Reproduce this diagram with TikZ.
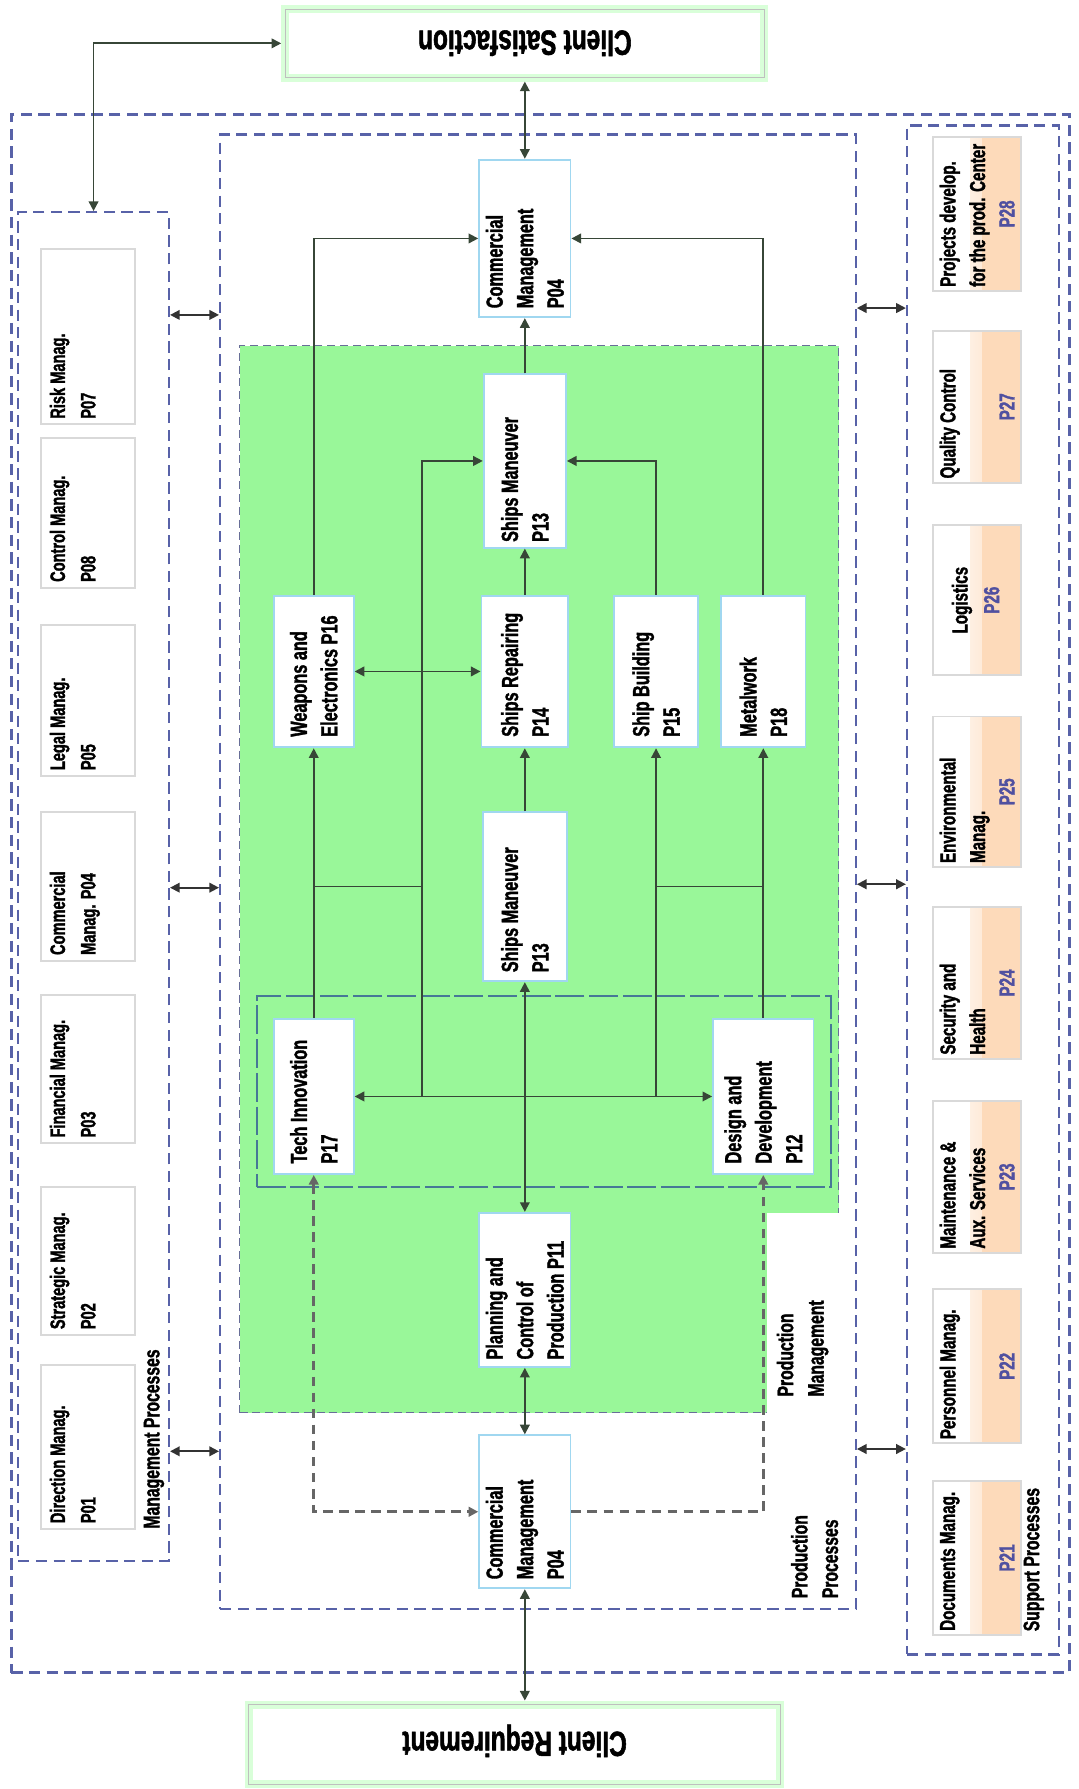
\documentclass[tikz,border=0pt]{standalone}
\usepackage{fontspec}
\setmainfont{Liberation Sans}[FakeStretch=0.7, BoldFeatures={FakeBold=1.5}]
\usetikzlibrary{arrows.meta,fit,calc}

\definecolor{dashblue}{RGB}{88,98,168}
\definecolor{prodgreen}{RGB}{153,247,153}
\definecolor{peach}{RGB}{253,218,186}
\definecolor{pnumblue}{RGB}{80,80,160}
\definecolor{boxblue}{RGB}{160,215,240}
\definecolor{techteal}{RGB}{70,120,150}
\definecolor{linecol}{RGB}{55,70,55}

\begin{document}
\begin{tikzpicture}[x=0.025cm,y=-0.025cm,
    grp/.style={draw=dashblue, line width=1.5pt, dash pattern=on 7pt off 4pt, inner sep=0pt},
    pbox/.style={draw=boxblue, line width=1.2pt, fill=white, inner sep=0pt},
    mbox/.style={draw=black!15, line width=1.2pt, fill=white, inner sep=0pt},
    sbox/.style={draw=black!15, line width=1.2pt, fill=white, inner sep=0pt,
      path picture={
        \shade[left color=white, right color=peach]
          ($(path picture bounding box.south west)!0.42!(path picture bounding box.south east)$)
          rectangle ($(path picture bounding box.north west)!0.56!(path picture bounding box.north east)$);
        \fill[peach]
          ($(path picture bounding box.south west)!0.56!(path picture bounding box.south east)$)
          rectangle (path picture bounding box.north east);}},
    clbox/.style={fill=white, draw=green!15, line width=5pt, inner sep=0pt,
      postaction={draw=black!25, line width=0.6pt},
      font=\bfseries\fontsize{21.8}{24}\selectfont},
    vt/.style={rotate=90, anchor=west, inner sep=0pt, align=left},
    vtp/.style={vt, font=\bfseries\fontsize{14.5}{19}\selectfont},
    vtm/.style={vt, font=\bfseries\fontsize{13}{19}\selectfont},
    vts/.style={vt, font=\bfseries\fontsize{13.5}{18.5}\selectfont},
    snum/.style={rotate=90, inner sep=0pt, text=pnumblue, font=\bfseries\fontsize{13.5}{18.5}\selectfont},
    lab/.style={inner sep=0pt, font=\bfseries\fontsize{14}{19}\selectfont},
    arr/.style={draw=linecol, line width=1.1pt, -{Triangle[length=6pt,width=6pt]}},
    dar/.style={draw=linecol, line width=1.1pt, {Triangle[length=6pt,width=6pt]}-{Triangle[length=6pt,width=6pt]}},
    dsh/.style={draw=black!60, line width=1.6pt, dash pattern=on 6pt off 4pt}]

  \useasboundingbox (0,0) rectangle (945,1568);

  % process groups
  \node[grp, line width=1.8pt, fit={(10,100) (937,1466)}] (outer) {};
  \node[grp, fit={(16,186) (148,1368)}] (mgmt) {};
  \node[grp, fit={(795,110) (928,1450)}] (supp) {};
  \node[grp, fit={(193,118) (750,1410)}] (prod) {};
  \node[fill=prodgreen, draw=dashblue!60!gray, line width=0.8pt, dash pattern=on 5pt off 3pt,
    inner sep=0pt, fit={(210,303) (735,1238)}] (green) {};
  \node[fill=white, inner sep=0pt, fit={(672,1063) (735,1238)}] (pmbg) {};
  \node[draw=techteal, line width=1.3pt, dash pattern=on 18pt off 3pt, inner sep=0pt,
    fit={(225,873) (728,1040)}] (techarea) {};

  % clients
  \node[clbox, fit={(250,8) (670,68)}] (csat) {\rotatebox{180}{Client Satisfaction}};
  \node[clbox, fit={(218,1494) (684,1564)}] (creq) {\rotatebox{180}{Client Requirement}};

  % management processes
  \node[mbox, fit={(36,218) (118,372)}] (p07) {};
  \node[mbox, fit={(36,384) (118,515)}] (p08) {};
  \node[mbox, fit={(36,548) (118,680)}] (p05) {};
  \node[mbox, fit={(36,712) (118,842)}] (p04m) {};
  \node[mbox, fit={(36,872) (118,1002)}] (p03) {};
  \node[mbox, fit={(36,1040) (118,1170)}] (p02) {};
  \node[mbox, fit={(36,1196) (118,1340)}] (p01) {};
  \node[vtm] (p07t) at ([yshift=4pt]p07.south) {Risk Manag.\\P07\\~};
  \node[vtm] (p08t) at ([yshift=4pt]p08.south) {Control Manag.\\P08\\~};
  \node[vtm] (p05t) at ([yshift=4pt]p05.south) {Legal Manag.\\P05\\~};
  \node[vtm] (p04mt) at ([yshift=4pt]p04m.south) {Commercial\\Manag. P04\\~};
  \node[vtm] (p03t) at ([yshift=4pt]p03.south) {Financial Manag.\\P03\\~};
  \node[vtm] (p02t) at ([yshift=4pt]p02.south) {Strategic Manag.\\P02\\~};
  \node[vtm] (p01t) at ([yshift=4pt]p01.south) {Direction Manag.\\P01\\~};

  % support processes
  \node[sbox, fit={(818,120) (895,255)}] (p28) {};
  \node[sbox, fit={(818,290) (895,423)}] (p27) {};
  \node[sbox, fit={(818,460) (895,592)}] (p26) {};
  \node[sbox, fit={(818,628) (895,760)}] (p25) {};
  \node[sbox, fit={(818,795) (895,928)}] (p24) {};
  \node[sbox, fit={(818,965) (895,1098)}] (p23) {};
  \node[sbox, fit={(818,1130) (895,1265)}] (p22) {};
  \node[sbox, fit={(818,1298) (895,1433)}] (p21) {};
  \node[vts] (p28t) at ([yshift=3pt]p28.south) {Projects develop.\\for the prod. Center\\~};
  \node[vts] (p27t) at ([yshift=3pt]p27.south) {Quality Control\\~\\~};
  \node[vts, anchor=center] (p26t) at ([xshift=-9.5pt]p26.center) {Logistics};
  \node[vts] (p25t) at ([yshift=3pt]p25.south) {Environmental\\Manag.\\~};
  \node[vts] (p24t) at ([yshift=3pt]p24.south) {Security and\\Health\\~};
  \node[vts] (p23t) at ([yshift=3pt]p23.south) {Maintenance \&\\Aux. Services\\~};
  \node[vts] (p22t) at ([yshift=3pt]p22.south) {Personnel Manag.\\~\\~};
  \node[vts] (p21t) at ([yshift=3pt]p21.south) {Documents Manag.\\~\\~};
  \node[snum] (p28n) at ([xshift=18.5pt]p28.center) {P28};
  \node[snum] (p27n) at ([xshift=18.5pt]p27.center) {P27};
  \node[snum] (p26n) at ([xshift=9pt]p26.center) {P26};
  \node[snum] (p25n) at ([xshift=18.5pt]p25.center) {P25};
  \node[snum] (p24n) at ([xshift=18.5pt]p24.center) {P24};
  \node[snum] (p23n) at ([xshift=18.5pt]p23.center) {P23};
  \node[snum] (p22n) at ([xshift=18.5pt]p22.center) {P22};
  \node[snum] (p21n) at ([xshift=18.5pt]p21.center) {P21};

  % production processes
  \node[pbox, fit={(420,140) (500,278)}] (cmtop) {};
  \node[pbox, fit={(424,328) (496,480)}] (smtop) {};
  \node[pbox, fit={(240,522) (310,655)}] (weap) {};
  \node[pbox, fit={(422,522) (498,655)}] (rep) {};
  \node[pbox, fit={(538,522) (612,655)}] (ship) {};
  \node[pbox, fit={(632,522) (706,655)}] (metal) {};
  \node[pbox, fit={(423,712) (497,860)}] (smlow) {};
  \node[pbox, fit={(240,893) (310,1029)}] (tech) {};
  \node[pbox, fit={(625,893) (713,1029)}] (design) {};
  \node[pbox, fit={(420,1063) (500,1198)}] (plan) {};
  \node[pbox, fit={(420,1258) (500,1392)}] (cmbot) {};
  \node[vtp] (cmtopt) at ([yshift=6pt]cmtop.south) {Commercial\\Management\\P04};
  \node[vtp] (smtopt) at ([yshift=4pt]smtop.south) {Ships Maneuver\\P13};
  \node[vtp] (weapt) at ([yshift=7pt]weap.south) {Weapons and\\Electronics P16};
  \node[vtp] (rept) at ([yshift=7pt]rep.south) {Ships Repairing\\P14};
  \node[vtp] (shipt) at ([yshift=7pt]ship.south) {Ship Building\\P15};
  \node[vtp] (metalt) at ([yshift=7pt]metal.south) {Metalwork\\P18};
  \node[vtp] (smlowt) at ([yshift=6pt]smlow.south) {Ships Maneuver\\P13};
  \node[vtp] (techt) at ([yshift=7pt]tech.south) {Tech Innovation\\P17};
  \node[vtp] (designt) at ([yshift=7pt]design.south) {Design and\\Development\\P12};
  \node[vtp] (plant) at ([yshift=5pt]plan.south) {Planning and\\Control of\\Production P11};
  \node[vtp] (cmbott) at ([yshift=6pt]cmbot.south) {Commercial\\Management\\P04};

  % group labels
  \node[lab, rotate=90, anchor=west] (mglab) at (135,1340) {Management Processes};
  \node[lab, rotate=90, anchor=west] (sulab) at (906,1430) {Support Processes};
  \node[lab, rotate=90, anchor=west, align=left] (prlab) at (714,1401) {Production\\Processes};
  \node[lab, rotate=90, anchor=west, align=left] (pmlab) at ([yshift=10pt]pmbg.south) {Production\\Management};

  % junctions
  \coordinate (jl) at (tech.east -| 370,0);
  \coordinate (jr) at (tech.east -| 575,0);
  \coordinate (jlm) at (370,777);
  \coordinate (jrm) at (575,777);

  % connectors
  \draw[dar] (mgmt.north) |- (csat.west);
  \draw[dar] (csat.south) -- (cmtop.north);
  \draw[arr] (weap.north) |- (cmtop.west);
  \draw[arr] (metal.north) |- (cmtop.east);
  \draw[arr] (smtop.north) -- (cmtop.south);
  \draw[arr] (rep.north) -- (smtop.south);
  \draw[arr] (jl) |- (smtop.west);
  \draw[arr] (ship.north) |- (smtop.east);
  \draw[dar] (weap.east) -- (rep.west);
  \draw[arr] (smlow.north) -- (rep.south);
  \draw[arr] (tech.north) -- (weap.south);
  \draw[arr] (jr) -- (ship.south);
  \draw[arr] (design.north) -- (metal.south);
  \draw[draw=linecol, line width=1.1pt] (jlm -| tech.north) -- (jlm);
  \draw[draw=linecol, line width=1.1pt] (jrm) -- (jrm -| design.north);
  \draw[dar] (tech.east) -- (design.west);
  \draw[dar] (plan.north) -- (smlow.south);
  \draw[dar] (cmbot.north) -- (plan.south);
  \draw[dar] (cmbot.south) -- (cmbot.south |- creq.north);
  \draw[dsh, {Triangle[length=6pt,width=6pt]}-{Triangle[length=6pt,width=6pt]}] (tech.south) |- (cmbot.west);
  \draw[dsh, -{Triangle[length=6pt,width=6pt]}] (cmbot.east) -| (design.south);

  % links between the process groups
  \foreach \yy in {276,778,1272} {
    \draw[dar, draw=black!80] (mgmt.east |- 0,\yy) -- (prod.west |- 0,\yy);
  }
  \foreach \yy in {270,775,1270} {
    \draw[dar, draw=black!80] (prod.east |- 0,\yy) -- (supp.west |- 0,\yy);
  }
\end{tikzpicture}
\end{document}
